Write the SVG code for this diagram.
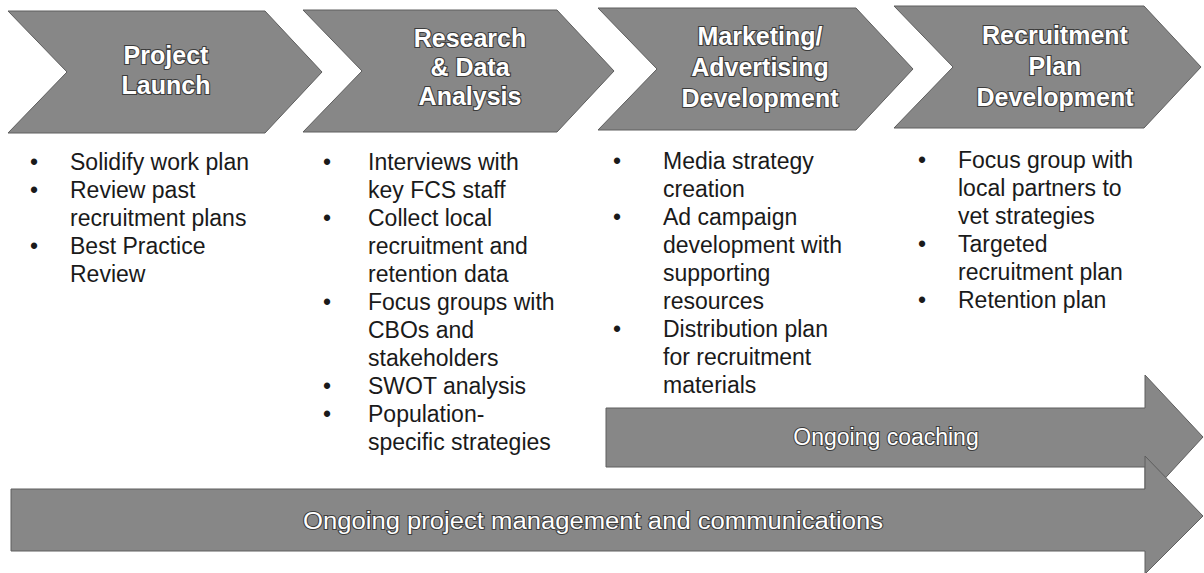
<svg xmlns="http://www.w3.org/2000/svg" width="1204" height="573" viewBox="0 0 1204 573">
<style>
.shape{fill:#878787;stroke:#5e5e5e;stroke-width:1}
.head{font-family:"Liberation Sans",Arial,sans-serif;font-weight:bold;font-size:25px;fill:#ffffff;stroke:#3c3c3c;stroke-width:2.2;paint-order:stroke;text-anchor:middle}
.bar{font-family:"Liberation Sans",Arial,sans-serif;font-size:23px;fill:#ffffff;stroke:#3c3c3c;stroke-width:2;paint-order:stroke;text-anchor:middle}
.body{font-family:"Liberation Sans",Arial,sans-serif;font-size:23px;fill:#1a1a1a}
</style>
<rect width="1204" height="573" fill="#ffffff"/>

<g id="stage1">
<polygon class="shape" points="8,11 265,11 322,72 265,133 8,133 67,72"/>
<text class="head" x="166" y="64">Project</text>
<text class="head" x="166" y="94">Launch</text>
</g>

<g id="stage2">
<polygon class="shape" points="303,10 557,10 614,71 557,132 303,132 362,71"/>
<text class="head" x="470" y="47">Research</text>
<text class="head" x="470" y="76">&amp; Data</text>
<text class="head" x="470" y="105">Analysis</text>
</g>

<g id="stage3">
<polygon class="shape" points="598,8 856,8 913,69 856,130 598,130 657,69"/>
<text class="head" x="760" y="45">Marketing/</text>
<text class="head" x="760" y="76">Advertising</text>
<text class="head" x="760" y="107">Development</text>
</g>

<g id="stage4">
<polygon class="shape" points="894,6 1144,6 1201,67 1144,128 894,128 953,67"/>
<text class="head" x="1055" y="44">Recruitment</text>
<text class="head" x="1055" y="75">Plan</text>
<text class="head" x="1055" y="106">Development</text>
</g>

<g id="list1" class="body">
<text x="30" y="170">•</text><text x="70" y="170">Solidify work plan</text>
<text x="30" y="198">•</text><text x="70" y="198">Review past</text>
<text x="70" y="226">recruitment plans</text>
<text x="30" y="254">•</text><text x="70" y="254">Best Practice</text>
<text x="70" y="282">Review</text>
</g>

<g id="list2" class="body">
<text x="323" y="170">•</text><text x="368" y="170">Interviews with</text>
<text x="368" y="198">key FCS staff</text>
<text x="323" y="226">•</text><text x="368" y="226">Collect local</text>
<text x="368" y="254">recruitment and</text>
<text x="368" y="282">retention data</text>
<text x="323" y="310">•</text><text x="368" y="310">Focus groups with</text>
<text x="368" y="338">CBOs and</text>
<text x="368" y="366">stakeholders</text>
<text x="323" y="394">•</text><text x="368" y="394">SWOT analysis</text>
<text x="323" y="422">•</text><text x="368" y="422">Population-</text>
<text x="368" y="450">specific strategies</text>
</g>

<g id="list3" class="body">
<text x="613" y="169">•</text><text x="663" y="169">Media strategy</text>
<text x="663" y="197">creation</text>
<text x="613" y="225">•</text><text x="663" y="225">Ad campaign</text>
<text x="663" y="253">development with</text>
<text x="663" y="281">supporting</text>
<text x="663" y="309">resources</text>
<text x="613" y="337">•</text><text x="663" y="337">Distribution plan</text>
<text x="663" y="365">for recruitment</text>
<text x="663" y="393">materials</text>
</g>

<g id="list4" class="body">
<text x="918" y="168">•</text><text x="958" y="168">Focus group with</text>
<text x="958" y="196">local partners to</text>
<text x="958" y="224">vet strategies</text>
<text x="918" y="252">•</text><text x="958" y="252">Targeted</text>
<text x="958" y="280">recruitment plan</text>
<text x="918" y="308">•</text><text x="958" y="308">Retention plan</text>
</g>

<g id="coaching">
<polygon class="shape" points="606,408 1145,408 1145,375 1203,437 1145,500 1145,467 606,467"/>
<text class="bar" x="886" y="445">Ongoing coaching</text>
</g>

<g id="management">
<polygon class="shape" points="11,489 1145,489 1145,456 1203,516 1145,574 1145,551 11,551"/>
<text class="bar" x="593" y="529" font-size="24" textLength="580" lengthAdjust="spacingAndGlyphs">Ongoing project management and communications</text>
</g>

<g id="connectors"></g>
</svg>
